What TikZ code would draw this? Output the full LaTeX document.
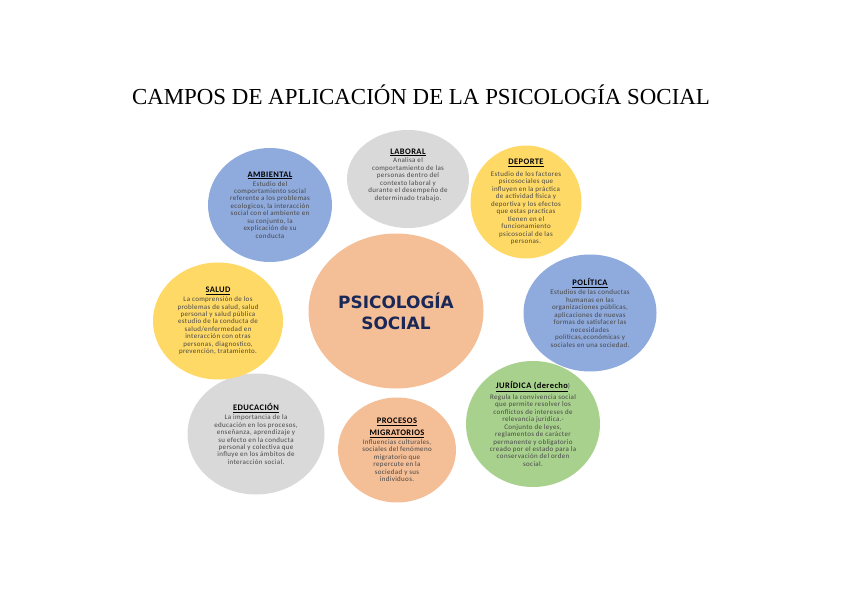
\documentclass[tikz,border=0pt]{standalone}
\usepackage{fontspec}
\setmainfont{Liberation Serif}
\newfontfamily\textofont[LetterSpace=5]{Carlito}
\newfontfamily\centrofont{DejaVu Sans}
\usepackage{xcolor}
\usepackage{tikz}
\usetikzlibrary{shapes.geometric}

\definecolor{azul}{HTML}{8FAADC}
\definecolor{gris}{HTML}{D9D9D9}
\definecolor{amarillo}{HTML}{FFD966}
\definecolor{naranja}{HTML}{F4BE96}
\definecolor{verde}{HTML}{A9D18E}
\definecolor{marino}{HTML}{1A2858}

\newcommand{\campotitulo}[1]{{\color{black}\fontsize{8.5}{10}\selectfont\bfseries\underline{#1}}}

\begin{document}
\begin{tikzpicture}[x=1bp,y=-1bp,
  campo/.style={ellipse,inner sep=0pt},
  texto/.style={align=center,inner sep=0pt,text=black!72,font=\textofont\fontsize{7}{7.5}\selectfont}]
  \useasboundingbox (0,0) rectangle (842,595);

  \node[anchor=base,font=\fontsize{23}{26}\selectfont] (titulo) at (421,105)
    {CAMPOS DE APLICACIÓN DE LA PSICOLOGÍA SOCIAL};

  % circulos
  \node[campo,fill=azul,minimum width=124bp,minimum height=114bp] (ambiental) at (270,205) {};
  \node[campo,fill=gris,minimum width=122bp,minimum height=98bp] (laboral) at (408,179) {};
  \node[campo,fill=amarillo,minimum width=111bp,minimum height=113bp] (deporte) at (526,202) {};
  \node[campo,fill=azul,minimum width=133bp,minimum height=117bp] (politica) at (590,313) {};
  \node[campo,fill=verde,minimum width=134bp,minimum height=126bp] (juridica) at (533,424) {};
  \node[campo,fill=naranja,minimum width=118bp,minimum height=105bp] (procesos) at (397,450) {};
  \node[campo,fill=gris,minimum width=137bp,minimum height=121bp] (educacion) at (256,434) {};
  \node[campo,fill=amarillo,minimum width=130bp,minimum height=117bp] (salud) at (218,321) {};
  \node[campo,fill=naranja,minimum width=175bp,minimum height=155bp] (psico) at (396,311) {};

  % textos
  \node[align=center,text=marino,font=\centrofont\bfseries\fontsize{17}{21}\selectfont] (psicotxt) at (psico) {PSICOLOGÍA\\SOCIAL};

  \node[texto] (ambientaltxt) at (ambiental) {\campotitulo{AMBIENTAL}\\[1.5bp]Estudio del\\comportamiento social\\referente a los problemas\\ecologicos, la interacción\\social con el ambiente en\\su conjunto, la\\explicación de su\\conducta};
  \node[texto,yshift=4bp] (laboraltxt) at (laboral) {\campotitulo{LABORAL}\\[1.5bp]Analisa el\\comportamiento de las\\personas dentro del\\contexto laboral y\\durante el desempeño de\\determinado trabajo.};
  \node[texto] (deportetxt) at (deporte) {\campotitulo{DEPORTE}\\[4bp]Estudio de los factores\\psicosociales que\\influyen en la práctica\\de actividad física y\\deportiva y los efectos\\que estas practicas\\tienen en el\\funcionamiento\\psicosocial de las\\personas.};
  \node[texto] (politicatxt) at (politica) {\campotitulo{POLÍTICA}\\[1.5bp]Estudios de las conductas\\humanas en las\\organizaciones públicas,\\aplicaciones de nuevas\\formas de satisfacer las\\necesidades\\políticas,económicas y\\sociales en una sociedad.};
  \node[texto] (juridicatxt) at (juridica) {\campotitulo{JURÍDICA (derecho})\\[1.5bp]Regula la convivencia social\\que permite resolver los\\conflictos de intereses de\\relevancia jurídica.-\\Conjunto de leyes,\\reglamentos de carácter\\permanente y obligatorio\\creado por el estado para la\\conservación del orden\\social.};
  \node[texto] (procesostxt) at (procesos) {\campotitulo{PROCESOS}\\[3bp]\campotitulo{MIGRATORIOS}\\[1.5bp]Influencias culturales,\\sociales del fenómeno\\migratorio que\\repercute en la\\sociedad y sus\\individuos.};
  \node[texto] (educaciontxt) at (educacion) {\campotitulo{EDUCACIÓN}\\[1.5bp]La importancia de la\\educación en los procesos,\\enseñanza, aprendizaje y\\su efecto en la conducta\\personal y colectiva que\\influye en los ámbitos de\\interacción social.};
  \node[texto] (saludtxt) at (salud) {\campotitulo{SALUD}\\[1.5bp]La comprensión de los\\problemas de salud, salud\\personal y salud pública\\estudio de la conducta de\\salud/enfermedad en\\interacción con otras\\personas, diagnostico,\\prevención, tratamiento.};
\end{tikzpicture}
\end{document}
